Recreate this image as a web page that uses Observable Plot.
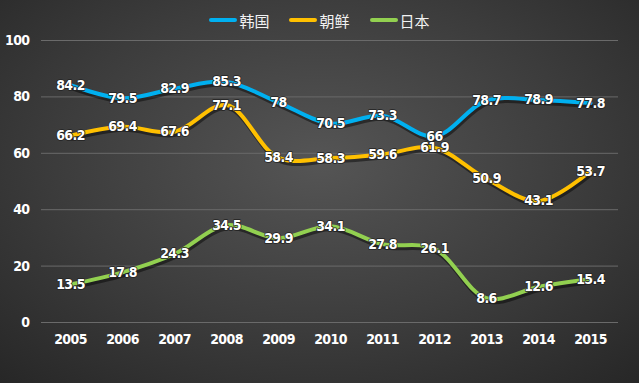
<!DOCTYPE html>
<html><head><meta charset="utf-8">
<script src="https://cdn.jsdelivr.net/npm/d3@7"></script>
<script src="https://cdn.jsdelivr.net/npm/@observablehq/plot@0.6"></script>
<style>
html,body{margin:0;padding:0;}
body{width:639px;height:383px;overflow:hidden;position:relative;
background:radial-gradient(ellipse 75% 80% at 50% 42%, #555555 0%, #3c3c3c 55%, #262626 100%);}
#legend{position:absolute;top:5px;left:0;width:639px;text-align:center;font-family:"Noto Sans CJK SC",sans-serif;font-size:15px;color:#f2f2f2;}
#legend span.item{display:inline-flex;align-items:center;margin:0 10px;}
#legend span.sw{display:inline-block;width:28px;height:4px;border-radius:2px;margin-right:2px;}
#chart{position:absolute;top:0;left:0;}
#chart text{letter-spacing:-0.6px;}
</style></head>
<body>
<div id="legend"></div>
<div id="chart"></div>
<script>
const years = ["2005","2006","2007","2008","2009","2010","2011","2012","2013","2014","2015"];
const seriesNames = ["韩国","朝鲜","日本"];
const seriesColors = ["#00b0f0","#ffc000","#92d050"];
const korea = [84.2,79.5,82.9,85.3,78,70.5,73.3,66,78.7,78.9,77.8];
const northKorea = [66.2,69.4,67.6,77.1,58.4,58.3,59.6,61.9,50.9,43.1,53.7];
const japan = [13.5,17.8,24.3,34.5,29.9,34.1,27.8,26.1,8.6,12.6,15.4];
const yTicks = [0,20,40,60,80,100];

const values = [korea, northKorea, japan];
const data = [];
seriesNames.forEach((s,i)=>years.forEach((y,j)=>data.push({series:s, year:y, value:values[i][j]})));

const font = '"DejaVu Sans Condensed","DejaVu Sans",sans-serif';

const plot = Plot.plot({
  width: 639, height: 383,
  marginTop: 40, marginBottom: 61, marginLeft: 41, marginRight: 21,
  style: {background: "transparent", color: "#fff", fontFamily: font},
  x: {type: "point", domain: years, padding: 0.5, label: null},
  y: {domain: [0,100], ticks: yTicks, label: null},
  color: {domain: seriesNames, range: seriesColors},
  marks: [
    Plot.gridY(yTicks, {stroke: "#6a6a6a", strokeOpacity: 1, strokeWidth: 1}),
    Plot.axisY(yTicks, {tickSize: 0, tickPadding: 12, fontSize: 14, fontWeight: "bold", fill: "#fff", label: null}),
    Plot.axisX({tickSize: 0, tickPadding: 12, fontSize: 14, fontWeight: "bold", fill: "#fff", label: null}),
    Plot.line(data, {x: "year", y: "value", z: "series", stroke: "#000", strokeOpacity: 0.45, strokeWidth: 4, curve: "catmull-rom", dx: 1, dy: 3}),
    Plot.line(data, {x: "year", y: "value", z: "series", stroke: "series", strokeWidth: 4, curve: "catmull-rom"}),
    Plot.text(data, {x: "year", y: "value", text: d => String(d.value), fill: "#fff", stroke: "#222", strokeWidth: 1.5, fontSize: 14, fontWeight: "bold", fontFamily: font})
  ]
});
document.getElementById("chart").appendChild(plot);

const lg = document.getElementById("legend");
seriesNames.forEach((s,i)=>{
  const it = document.createElement("span"); it.className="item";
  const sw = document.createElement("span"); sw.className="sw"; sw.style.background = seriesColors[i];
  it.appendChild(sw); it.appendChild(document.createTextNode(s));
  lg.appendChild(it);
});
</script>
</body></html>
